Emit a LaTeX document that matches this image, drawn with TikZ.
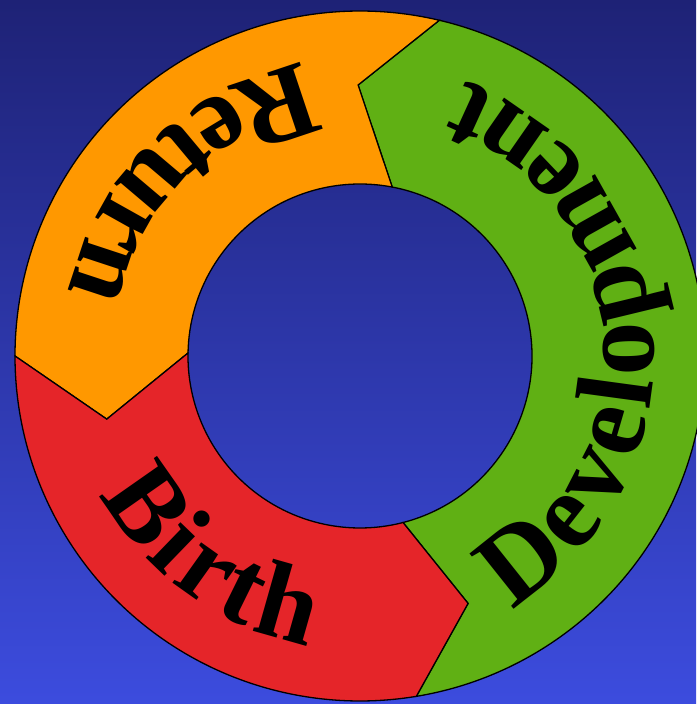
\documentclass[tikz,border=0pt]{standalone}
\usepackage{fontspec}
\setmainfont{Liberation Serif}
\usetikzlibrary{decorations.text}
\definecolor{bgtop}{RGB}{30,34,118}
\definecolor{bgbot}{RGB}{60,76,222}
\definecolor{segorange}{RGB}{255,152,0}
\definecolor{seggreen}{RGB}{96,176,20}
\definecolor{segred}{RGB}{229,37,41}
\newcommand\ringfont{\fontsize{108}{120}\selectfont\bfseries}
\begin{document}
\begin{tikzpicture}[x=1pt,y=1pt,
  segment/.style={draw=black, line width=1.3pt, line join=miter},
  ringtext/.style={decorate, decoration={text along path, text align={fit to path}, text={#1}}}]
\shade[top color=bgtop, bottom color=bgbot] (-360,-348) rectangle (336,356);
\useasboundingbox (-360,-348) rectangle (336,356);
\coordinate (Ao) at (76.7:345pt);
\coordinate (Ai) at (79.2:172pt);
\coordinate (An) at (90.4:271pt);
\coordinate (Bo) at (180:345pt);
\coordinate (Bi) at (179:172pt);
\coordinate (Bn) at (194:261pt);
\coordinate (Co) at (-80.6:345pt);
\coordinate (Ci) at (-75.5:172pt);
\coordinate (Cn) at (-66.4:270pt);
% green
\path[segment, fill=seggreen] (An) -- (Ao) arc[start angle=76.7, end angle=-80.6, radius=345pt]
  -- (Cn) -- (Ci) arc[start angle=-75.5, end angle=79.2, radius=172pt] -- cycle;
% orange
\path[segment, fill=segorange] (Ao) arc[start angle=76.7, end angle=180, radius=345pt]
  -- (Bn) -- (Bi) arc[start angle=179, end angle=79.2, radius=172pt] -- (An) -- cycle;
% red
\path[segment, fill=segred] (Bo) arc[start angle=180, end angle=279.4, radius=345pt]
  -- (Cn) -- (Ci) arc[start angle=284.5, end angle=179, radius=172pt] -- (Bn) -- cycle;
% texts
\path[ringtext={|\ringfont|Return}] (101:298pt) arc[start angle=101, end angle=167.5, radius=298pt];
\path[ringtext={|\ringfont|Birth}] (208:294pt) arc[start angle=208, end angle=260, radius=294pt];
\path[ringtext={|\ringfont|Development}] (-59:294pt) arc[start angle=-59, end angle=69, radius=294pt];
\end{tikzpicture}
\end{document}
